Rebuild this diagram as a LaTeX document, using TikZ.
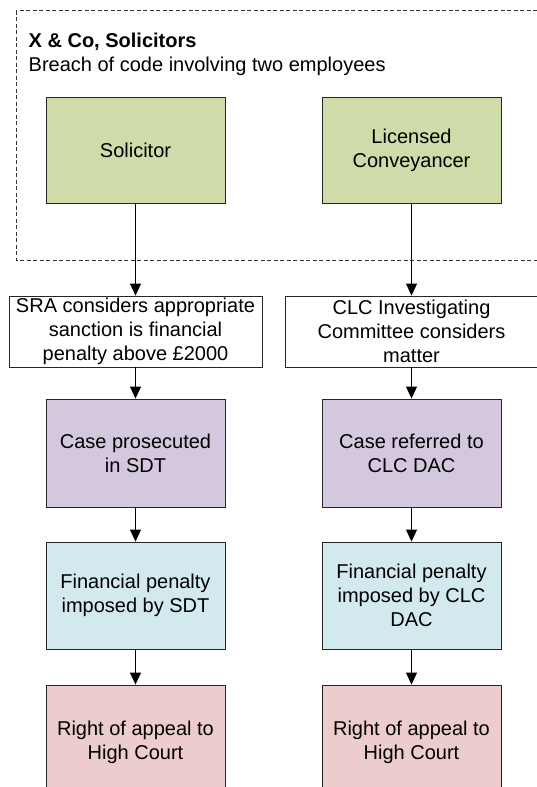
\documentclass[tikz,border=0pt]{standalone}
\usepackage{fontspec}
\setmainfont{Liberation Sans}
\usetikzlibrary{arrows.meta}
\definecolor{cgreen}{RGB}{205,220,169}
\definecolor{cpurple}{RGB}{211,200,222}
\definecolor{cblue}{RGB}{210,233,238}
\definecolor{cpink}{RGB}{236,204,204}
\tikzset{
  box/.style={draw=black!85, line width=0.9pt, align=center, inner sep=0pt,
    font=\fontsize{20}{24}\selectfont},
  colbox/.style={box, minimum width=179pt},
  whitebox/.style={box, fill=white, minimum width=253pt, minimum height=71pt},
  conn/.style={line width=0.9pt, -{Triangle[width=11pt,length=12pt]}},
}
\begin{document}
\begin{tikzpicture}[x=1pt,y=-1pt]
\useasboundingbox (0,0) rectangle (536,787);
\draw[line width=0.8pt, black!80, dash pattern=on 4pt off 2.5pt] (16,10.7) rectangle (570,260);
\node[anchor=base west, inner sep=0pt, font=\fontsize{20}{24}\selectfont\bfseries] (title) at (28.5,47.7) {X \& Co, Solicitors};
\node[anchor=base west, inner sep=0pt, font=\fontsize{20}{24}\selectfont] (sub) at (28.5,71) {Breach of code involving two employees};

\node[colbox, fill=cgreen, minimum height=106pt] (g1) at (135.5,150) {Solicitor};
\node[colbox, fill=cgreen, minimum height=106pt] (g2) at (411.5,150) {Licensed\\Conveyancer};

\node[whitebox] (w1) at (135.5,331.5) {SRA considers appropriate\\sanction is financial\\penalty above £2000};
\node[whitebox] (w2) at (411.5,331.5) {CLC Investigating\\Committee considers\\matter};

\node[colbox, fill=cpurple, minimum height=108pt] (p1) at (135.5,453) {Case prosecuted\\in SDT};
\node[colbox, fill=cpurple, minimum height=108pt] (p2) at (411.5,453) {Case referred to\\CLC DAC};

\node[colbox, fill=cblue, minimum height=107pt] (b1) at (135.5,595.5) {Financial penalty\\imposed by SDT};
\node[colbox, fill=cblue, minimum height=107pt] (b2) at (411.5,595.5) {Financial penalty\\imposed by CLC\\DAC};

\node[colbox, fill=cpink, minimum height=114pt] (r1) at (135.5,742) {Right of appeal to\\High Court};
\node[colbox, fill=cpink, minimum height=114pt] (r2) at (411.5,742) {Right of appeal to\\High Court};

\draw[conn] (g1) -- (w1);
\draw[conn] (g2) -- (w2);
\draw[conn] (w1) -- (p1);
\draw[conn] (w2) -- (p2);
\draw[conn] (p1) -- (b1);
\draw[conn] (p2) -- (b2);
\draw[conn] (b1) -- (r1);
\draw[conn] (b2) -- (r2);
\end{tikzpicture}
\end{document}
